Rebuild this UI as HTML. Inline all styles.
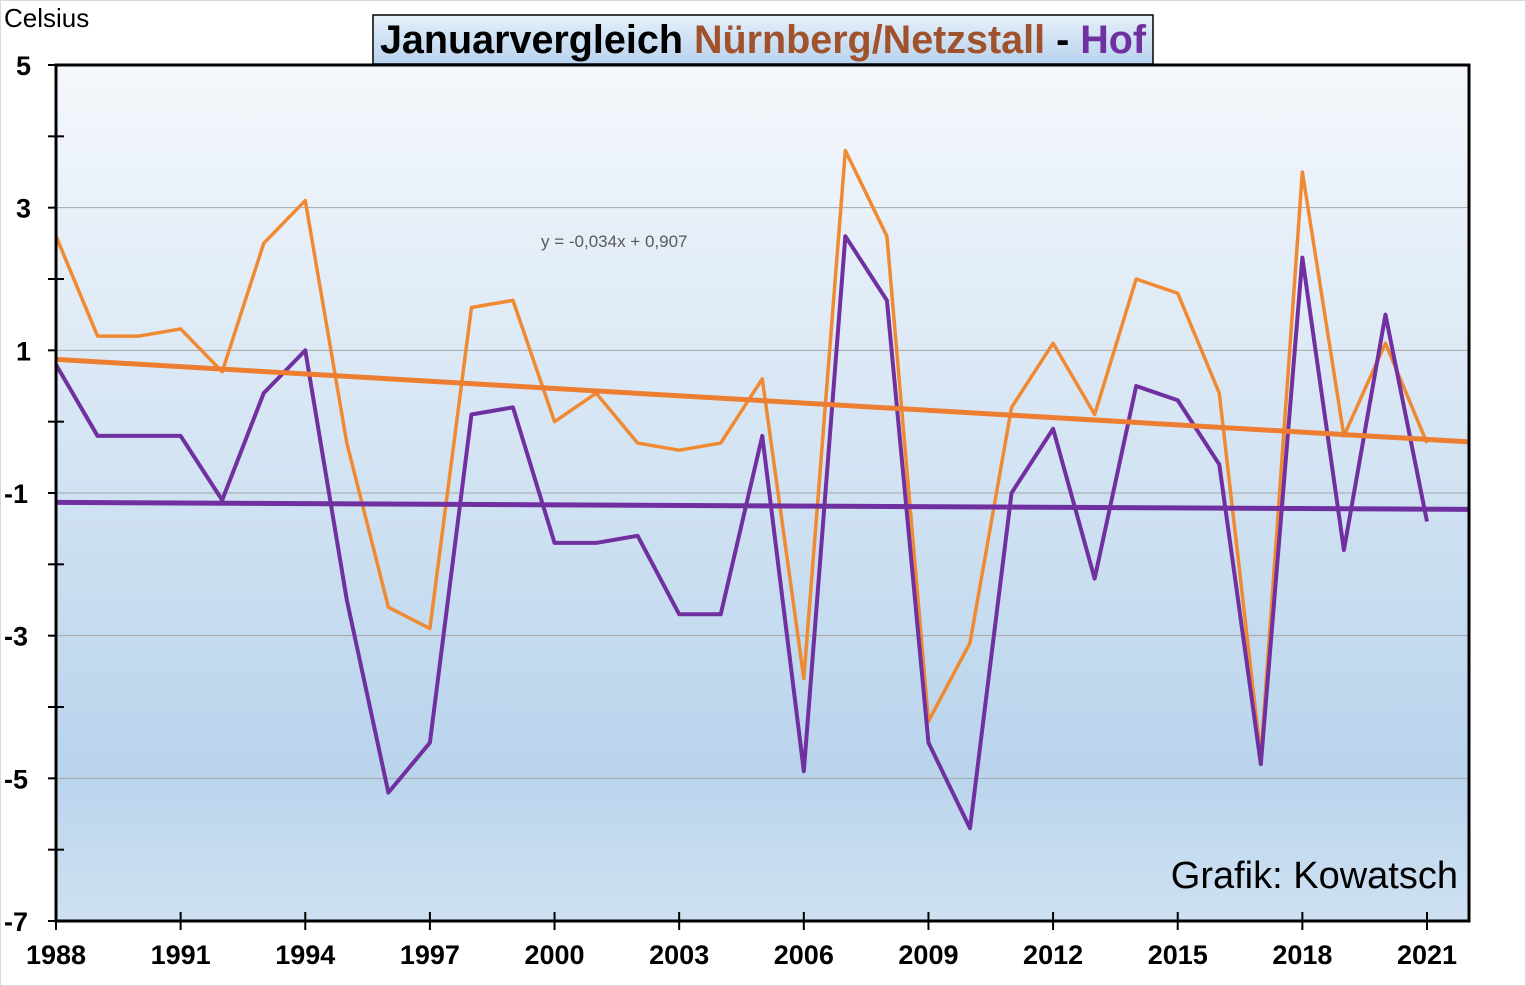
<!DOCTYPE html>
<html><head><meta charset="utf-8"><style>
body{margin:0;background:#fff;}
svg{display:block;font-family:"Liberation Sans",Arial,sans-serif;}
</style></head><body>
<svg id="chart" width="1526" height="986">
<defs>
<linearGradient id="bg" x1="0" y1="0" x2="0" y2="1">
<stop offset="0" stop-color="#f5f8fc"/>
<stop offset="0.82" stop-color="#b9d4ec"/>
<stop offset="1" stop-color="#cfe1f2"/>
</linearGradient>
<linearGradient id="tb" x1="0" y1="0" x2="0" y2="1">
<stop offset="0" stop-color="#e6f0fa"/>
<stop offset="1" stop-color="#b8d3ee"/>
</linearGradient>
</defs>
<rect x="0.5" y="0.5" width="1525" height="985" fill="#fff" stroke="#d9d9d9"/>
<rect x="56" y="65" width="1413" height="856" fill="url(#bg)"/>
<g id="grid"></g>
<g id="series"></g>
<g id="axes"></g>
<text x="4" y="27" font-size="26" fill="#000">Celsius</text>
<rect x="373" y="15" width="780" height="49" fill="url(#tb)" stroke="#000" stroke-width="1.5"/>
<text x="763" y="53" font-size="39.5" font-weight="bold" text-anchor="middle"><tspan fill="#000">Januarvergleich </tspan><tspan fill="#a0522d">Nürnberg/Netzstall</tspan><tspan fill="#000"> - </tspan><tspan fill="#7030a0">Hof</tspan></text>
<text x="541" y="247" font-size="17" fill="#595959">y = -0,034x + 0,907</text>
<text x="1458" y="888" font-size="38" text-anchor="end" fill="#000">Grafik: Kowatsch</text>
</svg>
<script>
const years=[1988,1989,1990,1991,1992,1993,1994,1995,1996,1997,1998,1999,2000,2001,2002,2003,2004,2005,2006,2007,2008,2009,2010,2011,2012,2013,2014,2015,2016,2017,2018,2019,2020,2021];
const nuernberg=[2.6,1.2,1.2,1.3,0.7,2.5,3.1,-0.3,-2.6,-2.9,1.6,1.7,0.0,0.4,-0.3,-0.4,-0.3,0.6,-3.6,3.8,2.6,-4.2,-3.1,0.2,1.1,0.1,2.0,1.8,0.4,-4.7,3.5,-0.2,1.1,-0.3];
const hof=[0.8,-0.2,-0.2,-0.2,-1.1,0.4,1.0,-2.5,-5.2,-4.5,0.1,0.2,-1.7,-1.7,-1.6,-2.7,-2.7,-0.2,-4.9,2.6,1.7,-4.5,-5.7,-1.0,-0.1,-2.2,0.5,0.3,-0.6,-4.8,2.3,-1.8,1.5,-1.4];
const yTicks=[5,3,1,-1,-3,-5,-7];
const xTicks=[1988,1991,1994,1997,2000,2003,2006,2009,2012,2015,2018,2021];
const NS='http://www.w3.org/2000/svg';
const X0=56,X1=1469,Y0=65,Y1=921;
const xs=y=>X0+(y-1988)*(1427-56)/33;
const ys=v=>Y0+(5-v)*(Y1-Y0)/12;
function mk(tag,attrs,parent,txt){const e=document.createElementNS(NS,tag);for(const k in attrs)e.setAttribute(k,attrs[k]);if(txt!=null)e.textContent=txt;document.getElementById(parent).appendChild(e);return e;}
yTicks.forEach(v=>{if(v>-7&&v<5){const l=mk('line',{x1:X0,x2:X1,y1:ys(v),y2:ys(v),stroke:'#a6a6a6','stroke-width':1},'grid');

}});
function trend(vals){const n=vals.length;let sx=0,sy=0,sxx=0,sxy=0;vals.forEach((v,i)=>{const x=i+1;sx+=x;sy+=v;sxx+=x*x;sxy+=x*v;});const m=(n*sxy-sx*sy)/(n*sxx-sx*sx);return [m,(sy-m*sx)/n];}
function series(vals,color,w,name){const p=vals.map((v,i)=>xs(years[i])+','+ys(v)).join(' ');const e=mk('polyline',{points:p,fill:'none',stroke:color,'stroke-width':w,'stroke-linejoin':'round'},'series');

}
function trendLine(vals,color,name){const [m,b]=trend(vals);const e=mk('line',{x1:xs(1988),y1:ys(m*1+b),x2:X1,y2:ys(m*35+b),stroke:color,'stroke-width':5},'series');

}
series(nuernberg,'#f08a32',3.5,'nuernberg-line');
series(hof,'#7030a0',4,'hof-line');
trendLine(nuernberg,'#ed7d31','nuernberg-trend');
trendLine(hof,'#7030a0','hof-trend');
mk('rect',{x:X0,y:Y0,width:X1-X0,height:Y1-Y0,fill:'none',stroke:'#000','stroke-width':3},'axes');
for(let v=-7;v<=5;v++){mk('line',{x1:X0-8,x2:(v%2!==0)?X0:X0+8,y1:ys(v),y2:ys(v),stroke:'#000','stroke-width':2},'axes');}
yTicks.forEach(v=>{const t=mk('text',{x:v<0?4:16,y:ys(v)+10,'font-size':27,'font-weight':'bold'},'axes',String(v));

});
xTicks.forEach(y=>{mk('line',{x1:xs(y),x2:xs(y),y1:Y1-9,y2:Y1+9,stroke:'#000','stroke-width':2},'axes');
const t=mk('text',{x:xs(y),y:964,'font-size':27,'font-weight':'bold','text-anchor':'middle'},'axes',String(y));

});
</script>
</body></html>
